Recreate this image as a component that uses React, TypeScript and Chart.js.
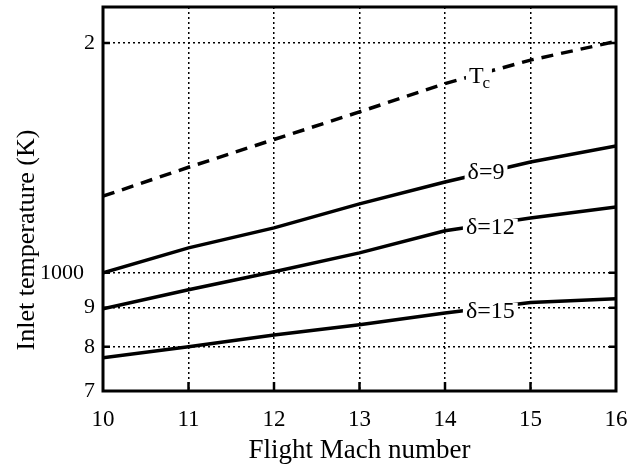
import React, { useEffect, useRef } from "react";
import { Chart, registerables } from "chart.js";
Chart.register(...registerables);

const machNumbers = [10, 11, 12, 13, 14, 15, 16];
const tcValues = [1260, 1375, 1495, 1625, 1770, 1900, 2010];
const delta9Values = [1000, 1078, 1145, 1231, 1315, 1397, 1466];
const delta12Values = [897, 950, 1003, 1062, 1135, 1180, 1220];
const delta15Values = [774, 800, 829, 855, 886, 914, 925];

const xTickValues = [10, 11, 12, 13, 14, 15, 16];
const yTickValues = [700, 800, 900, 1000, 2000];
const yTickLabels = ["7", "8", "9", "1000  ", "2"];

const curveLabelTexts = ["δ=9", "δ=12", "δ=15"];
const curveLabelX = [14.48, 14.53, 14.53];
const curveLabelY = [1352, 1145, 889];
const tcLabelX = 14.35;
const tcLabelY = 1805;

const SERIF = '"Liberation Serif", "Times New Roman", serif';

const decorPlugin = {
  id: "decor",
  afterDatasetsDraw(chart: any) {
    const { ctx, chartArea: a, scales } = chart;
    const xs = scales.x;
    const ys = scales.y;
    ctx.save();
    ctx.font = `24px ${SERIF}`;
    ctx.textAlign = "center";
    ctx.textBaseline = "middle";
    curveLabelTexts.forEach((t, i) => {
      const px = xs.getPixelForValue(curveLabelX[i]);
      const py = ys.getPixelForValue(curveLabelY[i]);
      const w = ctx.measureText(t).width;
      ctx.fillStyle = "#fff";
      ctx.fillRect(px - w / 2 - 3, py - 9, w + 6, 18);
      ctx.fillStyle = "#000";
      ctx.fillText(t, px, py);
    });
    {
      const px = xs.getPixelForValue(tcLabelX);
      const py = ys.getPixelForValue(tcLabelY);
      ctx.fillStyle = "#fff";
      ctx.fillRect(px - 9, py - 10, 26, 24);
      ctx.fillStyle = "#000";
      ctx.textAlign = "left";
      ctx.font = `24px ${SERIF}`;
      ctx.fillText("T", px - 6, py);
      const tw = ctx.measureText("T").width;
      ctx.font = `17px ${SERIF}`;
      ctx.fillText("c", px - 6 + tw - 1, py + 6);
    }
    ctx.strokeStyle = "#000";
    ctx.lineWidth = 3;
    ctx.strokeRect(a.left, a.top, a.right - a.left, a.bottom - a.top);
    ctx.lineWidth = 2.5;
    xTickValues.slice(1, -1).forEach((v) => {
      const px = xs.getPixelForValue(v);
      ctx.beginPath();
      ctx.moveTo(px, a.bottom);
      ctx.lineTo(px, a.bottom - 9);
      ctx.stroke();
    });
    yTickValues.slice(1).forEach((v) => {
      const py = ys.getPixelForValue(v);
      ctx.beginPath();
      ctx.moveTo(a.left, py);
      ctx.lineTo(a.left + 7, py);
      ctx.moveTo(a.right, py);
      ctx.lineTo(a.right - 7, py);
      ctx.stroke();
    });
    ctx.translate(27, 240);
    ctx.rotate(-Math.PI / 2);
    ctx.font = `26px ${SERIF}`;
    ctx.textAlign = "center";
    ctx.textBaseline = "middle";
    ctx.fillText("Inlet temperature (K)", 0, 0);
    ctx.restore();
  },
};

function makeSeries(values: number[]) {
  return machNumbers.map((m, i) => ({ x: m, y: values[i] }));
}

export default function App() {
  const ref = useRef<HTMLCanvasElement>(null);
  useEffect(() => {
    if (!ref.current) return;
    const lineBase = {
      borderColor: "#000",
      borderWidth: 3.5,
      pointRadius: 0,
      fill: false,
      tension: 0,
    };
    const chart = new Chart(ref.current, {
      type: "line",
      data: {
        datasets: [
          { ...lineBase, label: "Tc", data: makeSeries(tcValues), borderDash: [12, 8] },
          { ...lineBase, label: "δ=9", data: makeSeries(delta9Values) },
          { ...lineBase, label: "δ=12", data: makeSeries(delta12Values) },
          { ...lineBase, label: "δ=15", data: makeSeries(delta15Values) },
        ],
      },
      options: {
        animation: false,
        responsive: false,
        layout: { padding: { top: 7, right: 22, left: 0, bottom: 0 } },
        plugins: { legend: { display: false }, tooltip: { enabled: false } },
        scales: {
          x: {
            type: "linear",
            min: 10,
            max: 16,
            afterBuildTicks: (s: any) => {
              s.ticks = xTickValues.map((v) => ({ value: v }));
            },
            afterFit: (s: any) => {
              s.height = 79;
              s.paddingLeft = 0;
              s.paddingRight = 0;
            },
            grid: { color: "#000", lineWidth: 1.5, drawTicks: false },
            border: { display: false, dash: [2, 3] },
            ticks: {
              color: "#000",
              padding: 15,
              font: { family: SERIF, size: 23 },
              maxRotation: 0,
              callback: (v: any) => String(v),
            },
            title: {
              display: true,
              text: "Flight Mach number",
              color: "#000",
              font: { family: SERIF, size: 27 },
              padding: { top: 0, bottom: 3 },
            },
          },
          y: {
            type: "logarithmic",
            min: 700,
            max: 2230,
            afterBuildTicks: (s: any) => {
              s.ticks = yTickValues.map((v) => ({ value: v }));
            },
            afterFit: (s: any) => {
              s.width = 103;
              s.paddingTop = 0;
              s.paddingBottom = 0;
            },
            grid: { color: "#000", lineWidth: 1.5, drawTicks: false },
            border: { display: false, dash: [2, 3] },
            ticks: {
              color: "#000",
              padding: 8,
              font: { family: SERIF, size: 22 },
              callback: (v: any) => {
                const i = yTickValues.indexOf(Number(v));
                return i >= 0 ? yTickLabels[i] : "";
              },
            },
          },
        },
      },
      plugins: [decorPlugin],
    } as any);
    return () => chart.destroy();
  }, []);
  return (
    <div style={{ position: "fixed", left: 0, top: 0, width: 638, height: 470, background: "#fff" }}>
      <canvas ref={ref} width={638} height={470} />
    </div>
  );
}
